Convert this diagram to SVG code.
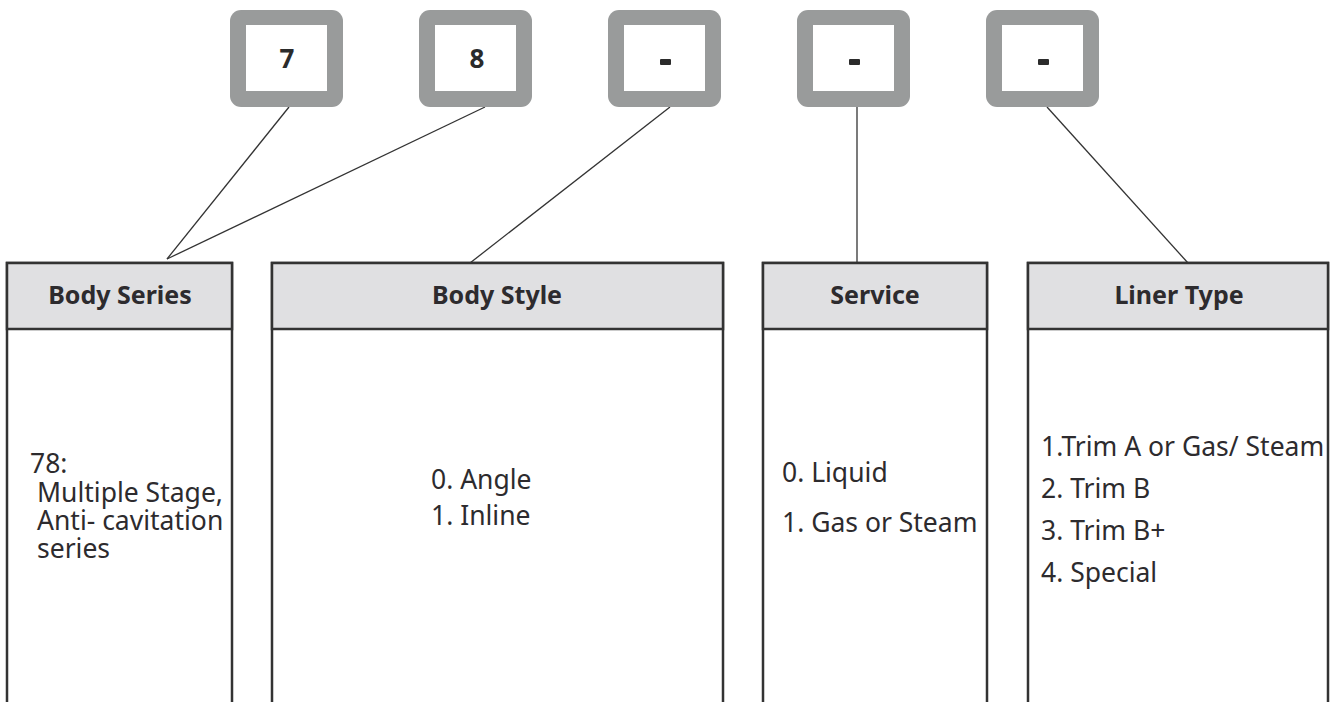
<svg xmlns="http://www.w3.org/2000/svg" width="1336" height="702" viewBox="0 0 1336 702">
<style>
.frame{fill:#999b9b}
.inner{fill:#ffffff}
.digit{font-family:"Noto Sans","Open Sans",sans-serif;font-weight:bold;font-size:26px;fill:#2b2b2b;text-anchor:middle}
.dash{fill:#2b2b2b}
.tbl{fill:#ffffff;stroke:#333333;stroke-width:2.5}
.hdr{fill:#e0e0e2;stroke:#333333;stroke-width:2.5}
.htxt{font-family:"Noto Sans","Open Sans",sans-serif;font-weight:bold;font-size:25px;fill:#2d2b2e;text-anchor:middle}
.btxt{font-family:"Noto Sans","Open Sans",sans-serif;font-size:26.5px;fill:#2d2b2e}
.conn{stroke:#333333;stroke-width:1.3;fill:none}
</style>
<rect width="1336" height="702" fill="#ffffff"/>
<g id="connectors">
<line class="conn" x1="289" y1="107" x2="167" y2="259"/>
<line class="conn" x1="485" y1="107" x2="167" y2="259"/>
<line class="conn" x1="670" y1="107" x2="470" y2="263"/>
<line class="conn" x1="857" y1="107" x2="857" y2="263"/>
<line class="conn" x1="1047" y1="107" x2="1188" y2="263"/>
</g>
<g id="code-7">
<rect class="frame" x="230" y="10" width="113" height="97" rx="11"/>
<rect class="inner" x="246" y="25" width="81" height="66"/>
<text class="digit" x="287" y="68">7</text>
</g>
<g id="code-8">
<rect class="frame" x="419" y="10" width="113" height="97" rx="11"/>
<rect class="inner" x="435" y="25" width="81" height="66"/>
<text class="digit" x="477" y="68">8</text>
</g>
<g id="code-3">
<rect class="frame" x="608" y="10" width="113" height="97" rx="11"/>
<rect class="inner" x="624" y="25" width="81" height="66"/>
<rect class="dash" x="660" y="59" width="11" height="6" rx="1"/>
</g>
<g id="code-4">
<rect class="frame" x="797" y="10" width="113" height="97" rx="11"/>
<rect class="inner" x="813" y="25" width="81" height="66"/>
<rect class="dash" x="849" y="59" width="11" height="6" rx="1"/>
</g>
<g id="code-5">
<rect class="frame" x="986" y="10" width="113" height="97" rx="11"/>
<rect class="inner" x="1002" y="25" width="81" height="66"/>
<rect class="dash" x="1038" y="59" width="11" height="6" rx="1"/>
</g>
<g id="body-series">
<rect class="tbl" x="7" y="263" width="225" height="460"/>
<rect class="hdr" x="7" y="263" width="225" height="66"/>
<text class="htxt" x="120" y="304">Body Series</text>
<text class="btxt" x="30" y="473">78:</text>
<text class="btxt" x="37" y="502">Multiple Stage,</text>
<text class="btxt" x="37" y="530">Anti- cavitation</text>
<text class="btxt" x="37" y="558">series</text>
</g>
<g id="body-style">
<rect class="tbl" x="272" y="263" width="451" height="460"/>
<rect class="hdr" x="272" y="263" width="451" height="66"/>
<text class="htxt" x="497" y="304">Body Style</text>
<text class="btxt" x="431" y="489">0. Angle</text>
<text class="btxt" x="431" y="525">1. Inline</text>
</g>
<g id="service">
<rect class="tbl" x="763" y="263" width="224" height="460"/>
<rect class="hdr" x="763" y="263" width="224" height="66"/>
<text class="htxt" x="875" y="304">Service</text>
<text class="btxt" x="782" y="482">0. Liquid</text>
<text class="btxt" x="782" y="532">1. Gas or Steam</text>
</g>
<g id="liner-type">
<rect class="tbl" x="1028" y="263" width="300" height="460"/>
<rect class="hdr" x="1028" y="263" width="300" height="66"/>
<text class="htxt" x="1179" y="304">Liner Type</text>
<text class="btxt" x="1041" y="456">1.Trim A or Gas/ Steam</text>
<text class="btxt" x="1041" y="498">2. Trim B</text>
<text class="btxt" x="1041" y="540">3. Trim B+</text>
<text class="btxt" x="1041" y="582">4. Special</text>
</g>
</svg>
